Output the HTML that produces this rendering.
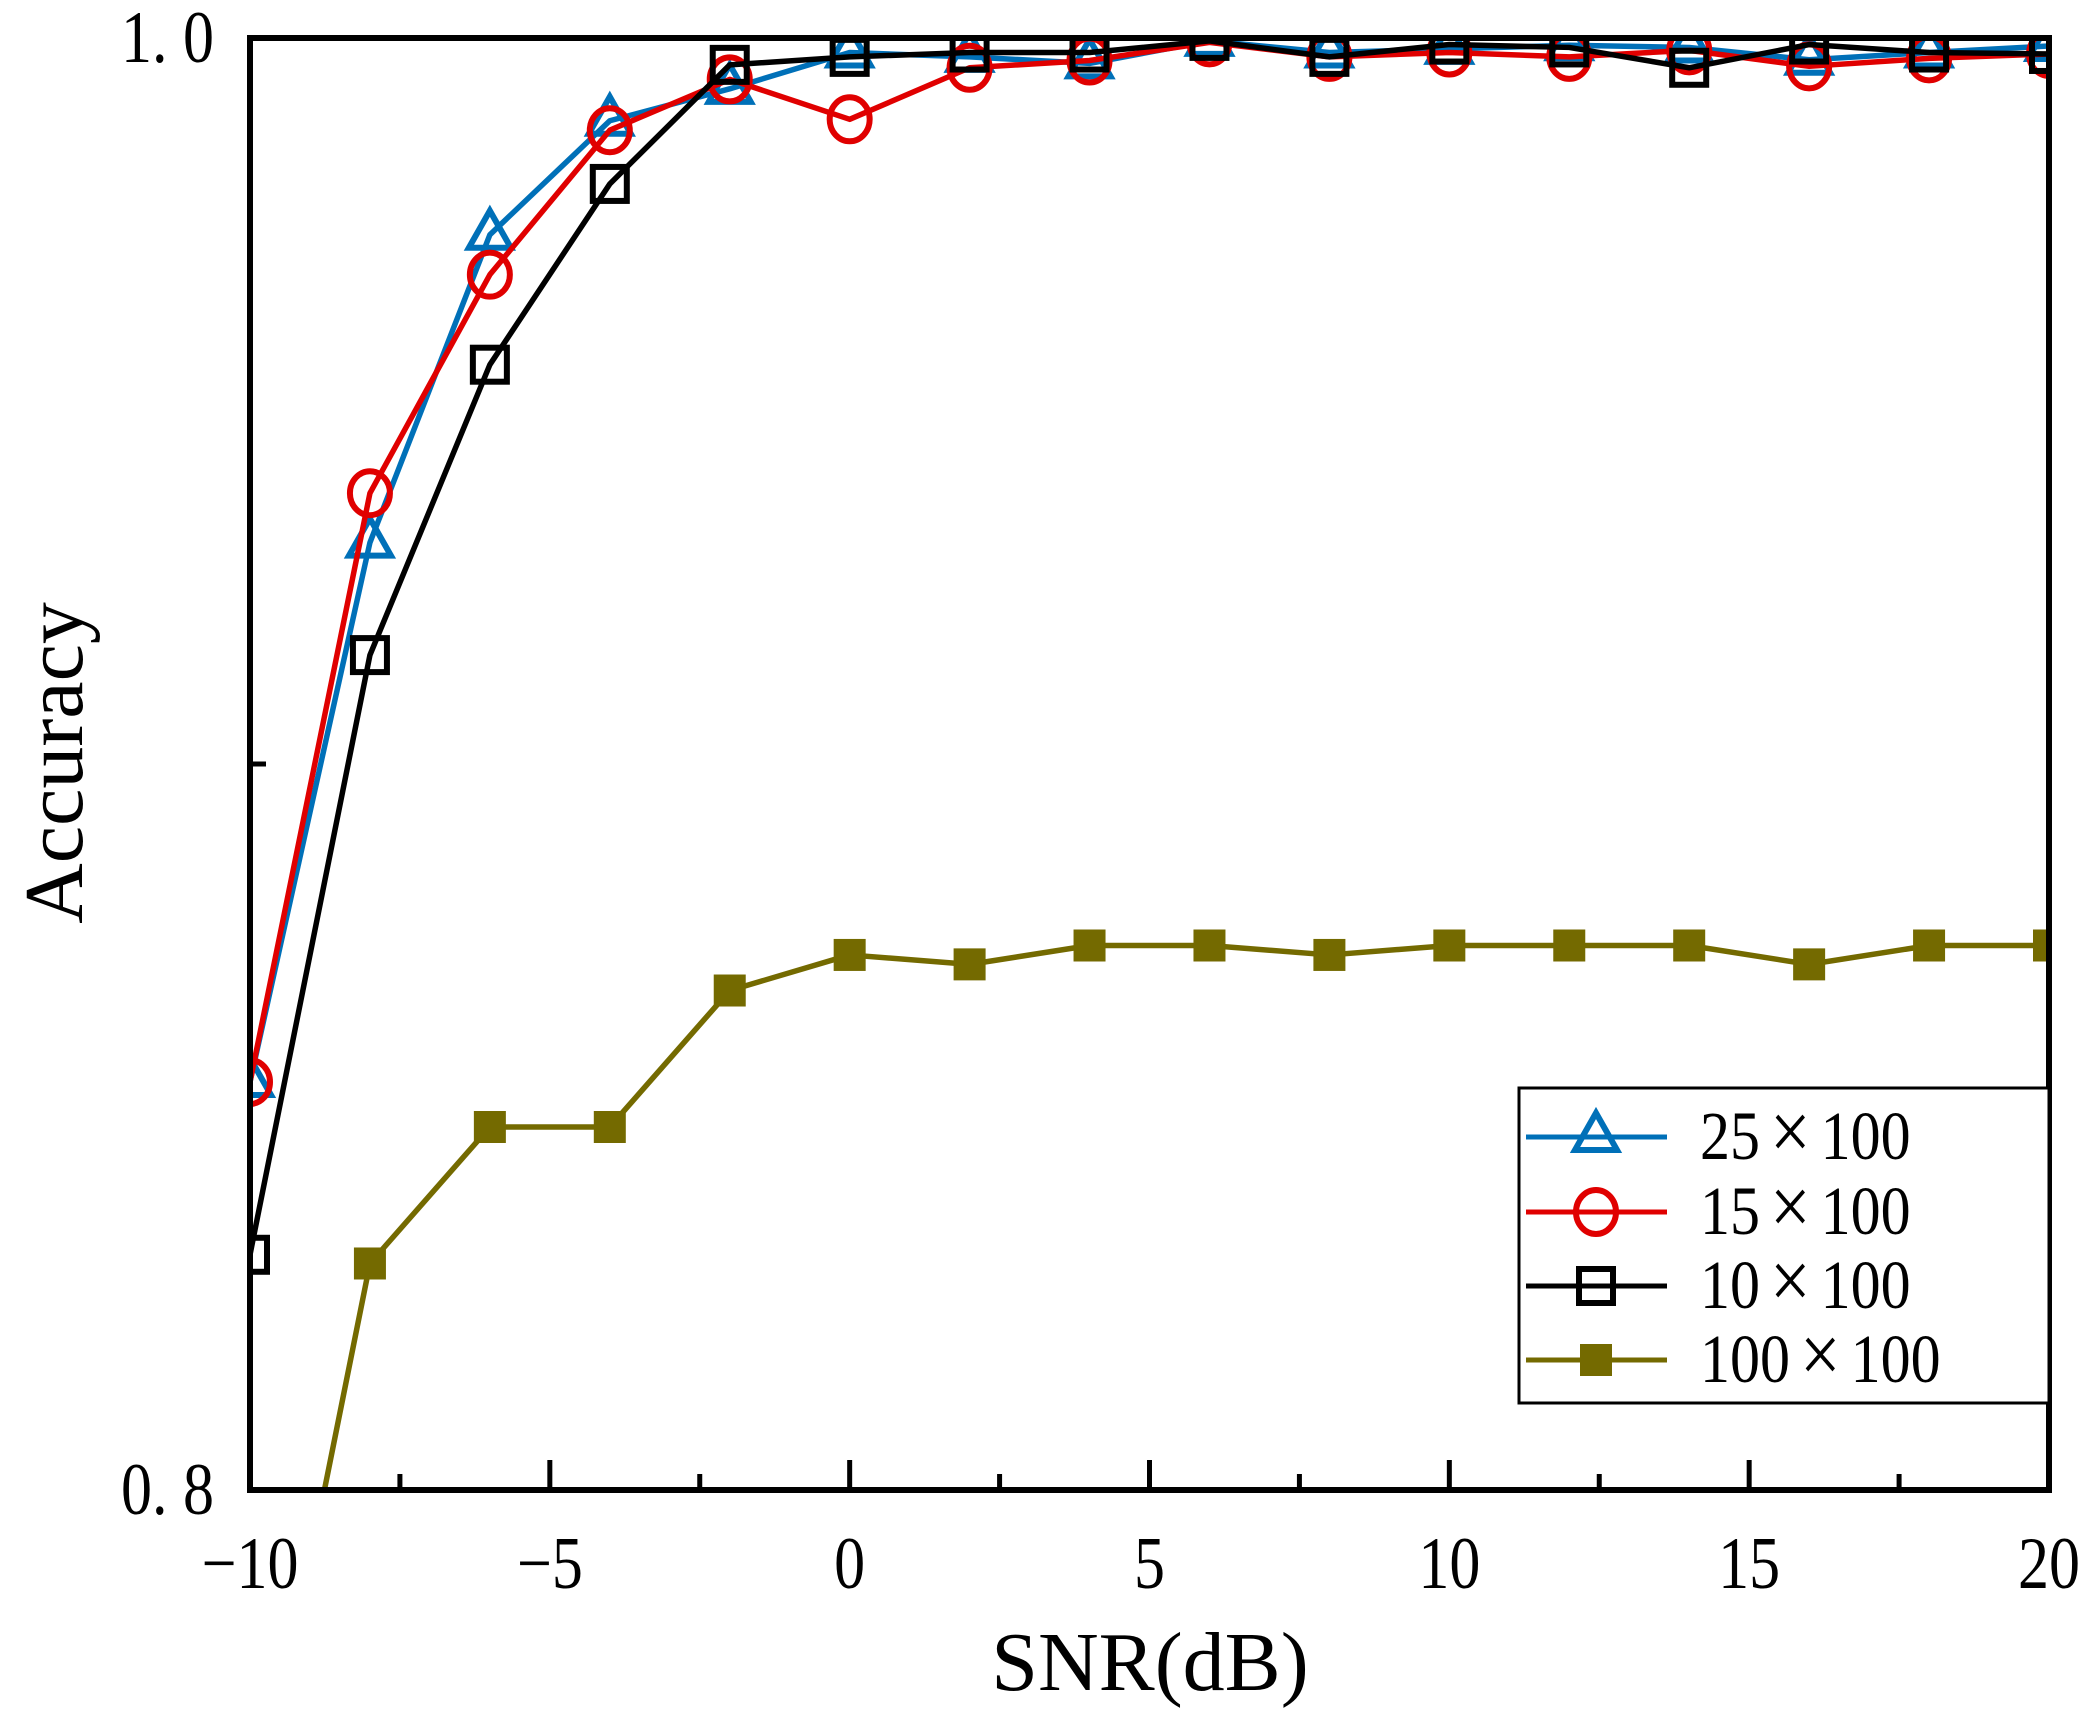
<!DOCTYPE html>
<html><head><meta charset="utf-8"><style>
html,body{margin:0;padding:0;background:#fff;overflow:hidden;}
svg{display:block;font-family:"Liberation Serif","Noto Serif CJK SC",serif;}
</style></head><body>
<svg id="chart" width="2099" height="1721" viewBox="0 0 2099 1721"></svg>
<script>
const snr = [-10,-8,-6,-4,-2,0,2,4,6,8,10,12,14,16,18,20];
const acc25 = [0.8562,0.9305,0.9729,0.9886,0.993,0.998,0.9974,0.9965,0.9996,0.998,0.9985,0.999,0.9987,0.997,0.998,0.9989];
const acc15 = [0.8562,0.9373,0.9674,0.9873,0.9943,0.9888,0.9959,0.9969,0.9994,0.9974,0.998,0.9974,0.9983,0.9961,0.9972,0.9978];
const acc10 = [0.8324,0.915,0.955,0.9799,0.9963,0.9974,0.998,0.998,0.9996,0.9974,0.9991,0.9987,0.9959,0.9991,0.998,0.9978];
const acc100 = [0.749,0.8312,0.85,0.85,0.8688,0.8737,0.8724,0.875,0.875,0.8737,0.875,0.875,0.875,0.8724,0.875,0.875];
const xTicks = [-10,-5,0,5,10,15,20];
const xTickLabels = ["\u221210","\u22125","0","5","10","15","20"];
const yTicks = [0.8,0.9,1.0];
const yTickLabels = ["0. 8","","1. 0"];
const legendPre = ["25","15","10","100"];
const legendPost = ["100","100","100","100"];

const NS="http://www.w3.org/2000/svg";
const svg=document.getElementById('chart');
const L=250,R=2049,T=38,B=1490;
const xs=v=>L+(v-(-10))/30*(R-L);
const ys=v=>B-(v-0.8)/0.2*(B-T);
function mk(tag,attrs,parent){const e=document.createElementNS(NS,tag);for(const k in attrs)e.setAttribute(k,attrs[k]);(parent||svg).appendChild(e);return e;}

const defs=mk('defs',{});
const cp=mk('clipPath',{id:'clip'},defs);
mk('rect',{x:L,y:T,width:R-L,height:B-T},cp);

const series=[
 {vals:acc25,color:'#0070b8',marker:'tri',name:'series-25x100'},
 {vals:acc15,color:'#e00000',marker:'circ',name:'series-15x100'},
 {vals:acc10,color:'#000000',marker:'sq',name:'series-10x100'},
 {vals:acc100,color:'#746a00',marker:'fsq',name:'series-100x100'}
];
function marker(type,x,y,color,g){
  let e;
  if(type==='tri'){e=mk('polygon',{points:`${x},${y-24} ${x-21},${y+13} ${x+21},${y+13}`,fill:'none',stroke:color,'stroke-width':6},g);}
  else if(type==='circ'){e=mk('ellipse',{cx:x,cy:y,rx:20,ry:22,fill:'none',stroke:color,'stroke-width':6},g);}
  else if(type==='sq'){e=mk('rect',{x:x-17,y:y-17,width:34,height:34,fill:'none',stroke:color,'stroke-width':6},g);}
  else {e=mk('rect',{x:x-16,y:y-16,width:32,height:32,fill:color},g);}
  return e;
}
series.forEach(s=>{
  const g=mk('g',{'clip-path':'url(#clip)'});
  
  
  const pts=snr.map((v,i)=>xs(v)+','+ys(s.vals[i])).join(' ');
  const pl=mk('polyline',{points:pts,fill:'none',stroke:s.color,'stroke-width':5.5,'stroke-linejoin':'round'},g);
  
  
  snr.forEach((v,i)=>{
    const m=marker(s.marker,xs(v),ys(s.vals[i]),s.color,g);
    
    
  });
});

const frame=mk('rect',{x:L,y:T,width:R-L,height:B-T,fill:'none',stroke:'#000','stroke-width':6});



for(let v=-10;v<=20;v+=2.5){
  const major=(v%5===0);
  const t=mk('line',{x1:xs(v),x2:xs(v),y1:B,y2:B-(major?30:16),stroke:'#000','stroke-width':5});
  
  
}
xTicks.forEach((v,i)=>{
  const t=mk('text',{x:0,y:0,'text-anchor':'middle','font-size':62,transform:`translate(${xs(v)},1588) scale(1,1.2)`});
  t.textContent=xTickLabels[i];
  
  
});
yTicks.forEach((v,i)=>{
  const t=mk('line',{x1:L,x2:L+16,y1:ys(v),y2:ys(v),stroke:'#000','stroke-width':5});
  
  
  if(yTickLabels[i]){
    const l=mk('text',{x:0,y:0,'text-anchor':'end','font-size':62,transform:`translate(214,${ys(v)+24}) scale(1,1.2)`});
    l.textContent=yTickLabels[i];
    
    
  }
});
const xt=mk('text',{x:1150,y:1690,'text-anchor':'middle','font-size':84});
xt.textContent='SNR(dB)';


const yt=mk('text',{x:0,y:0,'text-anchor':'middle','font-size':84,transform:'translate(82,763) rotate(-90)'});
yt.textContent='Accuracy';



const lg=mk('g',{});


mk('rect',{x:1519,y:1088,width:530,height:315,fill:'#fff',stroke:'#000','stroke-width':3},lg);
const ly=[1137,1212,1286,1360];
series.forEach((s,i)=>{
  const e=mk('g',{},lg);
  
  
  mk('line',{x1:1526,x2:1667,y1:ly[i],y2:ly[i],stroke:s.color,'stroke-width':5},e);
  marker(s.marker,1596,ly[i],s.color,e);
  const t=mk('text',{x:0,y:0,'font-size':60,transform:`translate(1700,${ly[i]+22}) scale(1,1.15)`},e);
  const a=mk('tspan',{},t); a.textContent=legendPre[i];
  const b=mk('tspan',{'font-size':72,dx:10}, t); b.textContent='\u00d7';
  const c=mk('tspan',{dx:10},t); c.textContent=legendPost[i];
});
</script>
</body></html>
